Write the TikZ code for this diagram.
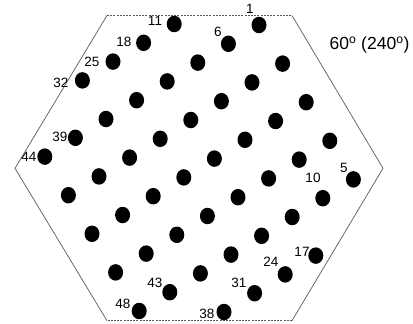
\documentclass[tikz,border=0pt]{standalone}
\usepackage{fontspec}
\setmainfont{Liberation Sans}
\usetikzlibrary{shapes.geometric}
\begin{document}
\begin{tikzpicture}[x=1pt,y=-1pt,
  dot/.style={ellipse,fill=black,minimum width=15pt,minimum height=16.5pt,inner sep=0pt},
  lab/.style={inner sep=0pt,font=\fontsize{13.5}{15}\selectfont},
  edge/.style={draw=black!65,line width=0.7pt},
  dedge/.style={draw=black!65,line width=0.7pt,dash pattern=on 2pt off 1.2pt}]
\useasboundingbox (0,0) rectangle (413,324);
% hexagon
\coordinate (tl) at (107,15.5);
\coordinate (tr) at (292,15.5);
\coordinate (r) at (383,168.3);
\coordinate (br) at (292,320.7);
\coordinate (bl) at (107,320.7);
\coordinate (l) at (15,168.3);
\draw[dedge] (tl) -- (tr);
\draw[edge] (tr) -- (r) -- (br);
\draw[dedge] (br) -- (bl);
\draw[edge] (bl) -- (l) -- (tl);
% dots
\foreach \r/\kmin/\kmax/\s in {0/0/4/1, 1/0/4/6, 2/-1/5/11, 3/-1/5/18, 4/-1/5/25, 5/-1/5/32, 6/0/4/39, 7/0/4/44}{
  \foreach \k in {\kmin,...,\kmax}{
    \pgfmathtruncatemacro{\n}{\s+\k-\kmin}
    \node[dot] (d\n) at ({259+\k*23.6-\r*30.6},{25+\k*38.6+\r*18.8}) {};
  }
}
% labels
\node[lab] (l1) at (250,9) {1};
\node[lab] (l6) at (218,32) {6};
\node[lab] (l11) at (155,21) {11};
\node[lab] (l18) at (124,42) {18};
\node[lab] (l25) at (92,62) {25};
\node[lab] (l32) at (61,83) {32};
\node[lab] (l39) at (60,137) {39};
\node[lab] (l44) at (29,157) {44};
\node[lab] (l5) at (344,168) {5};
\node[lab] (l10) at (313,178) {10};
\node[lab] (l17) at (302,252) {17};
\node[lab] (l24) at (271,262) {24};
\node[lab] (l31) at (239,283) {31};
\node[lab] (l38) at (207,314) {38};
\node[lab] (l43) at (155,283) {43};
\node[lab] (l48) at (123,304) {48};
\node[inner sep=0pt,font=\fontsize{17.5}{19}\selectfont] (title) at (369.5,45) {60\textsuperscript{o} (240\textsuperscript{o})};
\end{tikzpicture}
\end{document}
